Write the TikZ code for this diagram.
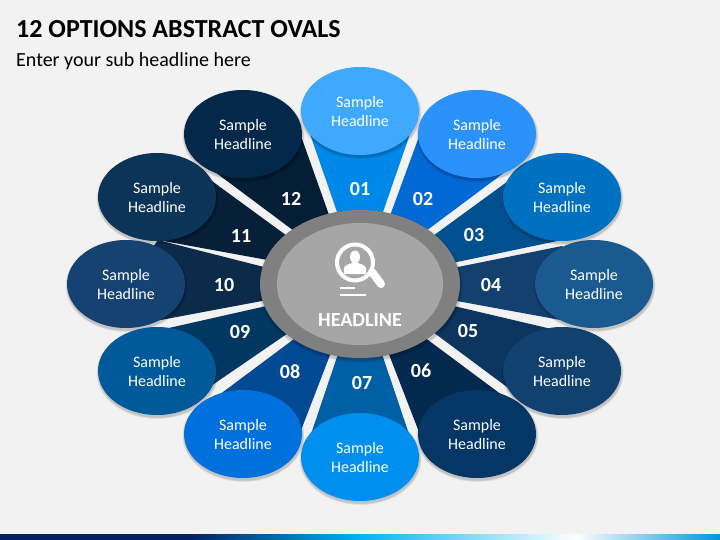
\documentclass[tikz,border=0pt]{standalone}
\usepackage{fontspec}
\setmainfont{Carlito}
\usetikzlibrary{calc,shapes.geometric}
\definecolor{pagebg}{HTML}{F2F2F2}
\definecolor{navy}{HTML}{002060}
\definecolor{sky}{HTML}{00B0F0}
\definecolor{endblue}{HTML}{0095DA}
\definecolor{wa}{HTML}{0088E8}\definecolor{oa}{HTML}{3FA9FF}
\definecolor{wb}{HTML}{0069D3}\definecolor{ob}{HTML}{2B92FB}
\definecolor{wc}{HTML}{00508F}\definecolor{oc}{HTML}{0070C0}
\definecolor{wd}{HTML}{14406F}\definecolor{od}{HTML}{1A5A90}
\definecolor{we}{HTML}{0C3560}\definecolor{oe}{HTML}{11416F}
\definecolor{wf}{HTML}{03294F}\definecolor{of}{HTML}{043666}
\definecolor{wg}{HTML}{005FA5}\definecolor{og}{HTML}{008FEE}
\definecolor{wh}{HTML}{004A94}\definecolor{oh}{HTML}{0070DC}
\definecolor{wi}{HTML}{013862}\definecolor{oi}{HTML}{005A9A}
\definecolor{wj}{HTML}{0C2B4B}\definecolor{oj}{HTML}{164272}
\definecolor{wk}{HTML}{071F38}\definecolor{ok}{HTML}{0C3358}
\definecolor{wl}{HTML}{041E36}\definecolor{ol}{HTML}{04284A}
\tikzset{
  ovalbox/.style={ellipse,inner sep=0pt,minimum width=118pt,minimum height=88pt,text=white,align=center,font=\fontsize{16}{19}\selectfont},
  numlabel/.style={text=white,inner sep=0pt,font=\fontsize{20}{20}\selectfont\bfseries},
  softshadow/.style={black,opacity=.05},
  icon/.style={white},
}
\newcommand\fanpiece[6]{\fill[#1] (#2) -- ($(#2)!1.1!(#3)$) -- (360,284) -- ($(#5)!1.1!(#4)$) -- (#5) -- (#6) -- cycle;}
\newcommand\ovalitem[4]{%
  \foreach \g in {1,...,4}{\fill[softshadow] (#2+0.5,#3+2) ellipse [x radius=59pt+\g*0.5pt,y radius=44pt+\g*0.5pt];}
  \fill[#4] (#2,#3) ellipse [x radius=59pt,y radius=44pt];
  \node[ovalbox] (#1) at (#2,#3+1) {Sample\\Headline};}
\begin{document}
\begin{tikzpicture}[x=1pt,y=-1pt]
\useasboundingbox (0,0) rectangle (720,540);
\fill[pagebg] (0,0) rectangle (720,540);
% bottom bar
\fill[navy] (0,534) rectangle (191,540);
\shade[left color=navy,right color=sky] (190,534) rectangle (356,540);
\shade[left color=sky,right color=white] (355,534) rectangle (576,540);
\shade[left color=white,right color=endblue] (575,534) rectangle (720,540);
% title
\node[anchor=base west,inner sep=0pt,font=\fontsize{26}{26}\selectfont\bfseries] (title) at (16,37.5) {12 OPTIONS ABSTRACT OVALS};
\node[anchor=base west,inner sep=0pt,font=\fontsize{20}{20}\selectfont] (sub) at (16,66.5) {Enter your sub headline here};
% wedges
\fanpiece{wa}{309,131}{337,212}{383,212}{411,131}{360,111}
\fanpiece{wb}{424,123}{391,213}{430,228}{513,166}{477,134}
\fanpiece{wc}{515,176}{437,233}{457,262}{562,240}{562,197}
\fanpiece{wd}{562,246}{458,267}{457,301}{566,321}{594,284}
\fanpiece{we}{560,331}{458,307}{437,335}{515,393}{562,371}
\fanpiece{wf}{510,401}{428,340}{390,357}{424,445}{477,434}
\fanpiece{wg}{411,440}{383,357}{337,357}{309,440}{360,457}
\fanpiece{wh}{295,446}{330,355}{290,342}{207,404}{243,434}
\fanpiece{wi}{208,388}{278,340}{262,307}{160,330}{157,371}
\fanpiece{wj}{150,322}{262,301}{260,266}{158,240}{126,284}
\fanpiece{wk}{158,240}{262,259}{283,233}{205,176}{157,197}
\fanpiece{wl}{207,166}{290,228}{328,212}{296,122}{243,134}
% ovals
\ovalitem{s12}{243}{134}{ol}
\ovalitem{s11}{157}{197}{ok}
\ovalitem{s10}{126}{284}{oj}
\ovalitem{s09}{157}{371}{oi}
\ovalitem{s08}{243}{434}{oh}
\ovalitem{s07}{360}{457}{og}
\ovalitem{s06}{477}{434}{of}
\ovalitem{s05}{562}{371}{oe}
\ovalitem{s04}{594}{284}{od}
\ovalitem{s03}{562}{197}{oc}
\ovalitem{s02}{477}{134}{ob}
\ovalitem{s01}{360}{111}{oa}
% numbers
\node[numlabel] (n01) at (360,189) {01};
\node[numlabel] (n02) at (423,199) {02};
\node[numlabel] (n03) at (474,235.5) {03};
\node[numlabel] (n04) at (491,285) {04};
\node[numlabel] (n05) at (468,331) {05};
\node[numlabel] (n06) at (421,371) {06};
\node[numlabel] (n07) at (362,383) {07};
\node[numlabel] (n08) at (290,371.5) {08};
\node[numlabel] (n09) at (240,332) {09};
\node[numlabel] (n10) at (224,285) {10};
\node[numlabel] (n11) at (241,236) {11};
\node[numlabel] (n12) at (291,199) {12};
% centre
\foreach \g in {1,...,4}{\fill[softshadow] (360.5,286) ellipse [x radius=100pt+\g*0.6pt,y radius=74pt+\g*0.6pt];}
\fill[color=black!50] (360,284) ellipse [x radius=100pt,y radius=74pt];
\fill[color=black!35] (360,284) ellipse [x radius=83pt,y radius=61pt];
% icon
\draw[icon,line width=4pt] (355,262.5) circle [radius=18pt];
\draw[icon,line width=8pt,line cap=round] (372,272) -- (381,284);
\fill[icon] (355,257) ellipse [x radius=5pt,y radius=6.5pt];
\fill[icon] (344,274) -- (344,268) .. controls (345,265) and (349,264) .. (352,263) -- (358,263) .. controls (361,264) and (365,265) .. (366,268) -- (366,274) -- cycle;
\draw[icon,line width=1.7pt] (340,288) -- (355,288);
\draw[icon,line width=1.7pt] (340,295) -- (366,295);
\node[text=white,inner sep=0pt,font=\fontsize{20}{20}\selectfont\bfseries] (head) at (360,320) {HEADLINE};
\end{tikzpicture}
\end{document}
